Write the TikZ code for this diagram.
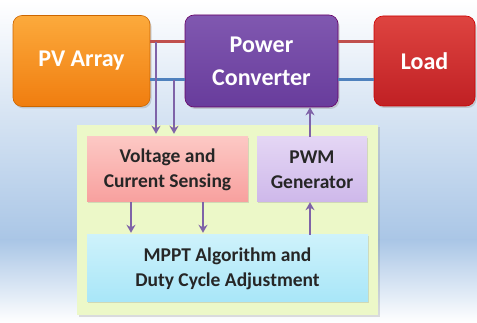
\documentclass[tikz,border=0pt]{standalone}
\usepackage{fontspec}
\setmainfont{Carlito}
\usetikzlibrary{arrows.meta,shadows,calc}
\definecolor{wirered}{HTML}{C0504D}
\definecolor{wireblue}{HTML}{4F81BD}
\definecolor{arrowpurple}{HTML}{7F63A8}
\definecolor{txtdark}{HTML}{262626}
\begin{document}
\begin{tikzpicture}[x=1pt,y=-1pt,
  bigbox/.style={rounded corners=9pt,draw=#1!80!black,line width=0.6pt,
    drop shadow={opacity=0.3,shadow xshift=1.5pt,shadow yshift=-2pt},
    text=white,align=center,inner sep=0pt,
    font=\fontsize{24}{33}\selectfont\bfseries},
  smallbox/.style={draw=none,inner sep=0pt,align=center,text=txtdark,
    drop shadow={opacity=0.25,shadow xshift=1.2pt,shadow yshift=-1.5pt},
    font=\fontsize{19.5}{25}\selectfont\bfseries},
  wire/.style={line width=3pt},
  arr/.style={draw=arrowpurple,line width=2pt,-{Stealth[length=8pt,width=9pt]}},
  tap/.style={draw=arrowpurple,line width=1.6pt,-{Stealth[length=8pt,width=9pt]}}
]
\useasboundingbox (0,0) rectangle (477,323);
% background
\shade[top color=white,bottom color={rgb,255:red,170;green,198;blue,230}] (0,0) rectangle (477,240);
\shade[top color={rgb,255:red,170;green,198;blue,230},bottom color=white] (0,240) rectangle (477,323);
\shade[left color=white,right color=white,middle color=white,opacity=0.0] (0,0) rectangle (10,323);

% top boxes
\node[bigbox=orange,top color={rgb,255:red,252;green,170;blue,60},bottom color={rgb,255:red,240;green,125;blue,15},
  minimum width=137pt,minimum height=91pt] (pv) at (81.5,61) {PV Array};
\node[bigbox=violet,top color={rgb,255:red,128;green,88;blue,176},bottom color={rgb,255:red,104;green,60;blue,156},
  minimum width=153pt,minimum height=92pt] (conv) at (261.5,61) {Power\\Converter};
\node[bigbox=red,top color={rgb,255:red,222;green,68;blue,64},bottom color={rgb,255:red,192;green,32;blue,36},
  minimum width=101pt,minimum height=90pt] (load) at (424.5,61) {Load};

% wires
\draw[wire,wirered] ([yshift=19pt]pv.east) -- ([yshift=19pt]conv.west);
\draw[wire,wireblue] ([yshift=-19pt]pv.east) -- ([yshift=-19pt]conv.west);
\draw[wire,wirered] ([yshift=19pt]conv.east) -- ([yshift=19pt]load.west);
\draw[wire,wireblue] ([yshift=-19pt]conv.east) -- ([yshift=-19pt]load.west);

% green panel
\node[draw=none,fill={rgb,255:red,236;green,248;blue,200},minimum width=301pt,minimum height=190pt,inner sep=0pt,
  drop shadow={opacity=0.25,shadow xshift=1.5pt,shadow yshift=-2pt}] (panel) at (227.5,220) {};

% lower boxes
\node[smallbox,top color={rgb,255:red,252;green,200;blue,196},bottom color={rgb,255:red,248;green,160;blue,158},
  minimum width=161pt,minimum height=65pt] (sense) at (167.5,169.5) {Voltage and\\Current Sensing};
\node[smallbox,top color={rgb,255:red,228;green,214;blue,244},bottom color={rgb,255:red,206;green,184;blue,234},
  minimum width=110pt,minimum height=65pt] (pwm) at (312,169.5) {PWM\\Generator};
\node[smallbox,top color={rgb,255:red,206;green,242;blue,251},bottom color={rgb,255:red,168;green,230;blue,248},
  minimum width=281pt,minimum height=67pt] (mppt) at (227.5,268.5) {MPPT Algorithm and\\Duty Cycle Adjustment};

% taps from wires
\coordinate (t1) at (156,42);
\coordinate (t2) at (174,80);
\draw[tap,shorten >=3pt] (t1) -- (t1 |- sense.north);
\draw[tap,shorten >=3pt] (t2) -- (t2 |- sense.north);

% sense -> mppt
\draw[arr,shorten >=2pt] ([xshift=-36.5pt]sense.south) -- ([xshift=-36.5pt]sense.south |- mppt.north);
\draw[arr,shorten >=2pt] ([xshift=35.5pt]sense.south) -- ([xshift=35.5pt]sense.south |- mppt.north);
% mppt -> pwm
\draw[arr] ([xshift=-2pt]pwm.south |- mppt.north) -- ([xshift=-2pt]pwm.south);
% pwm -> converter
\draw[arr] ([xshift=-2pt]pwm.north) -- ([xshift=-2pt]pwm.north |- conv.south);
\end{tikzpicture}
\end{document}
